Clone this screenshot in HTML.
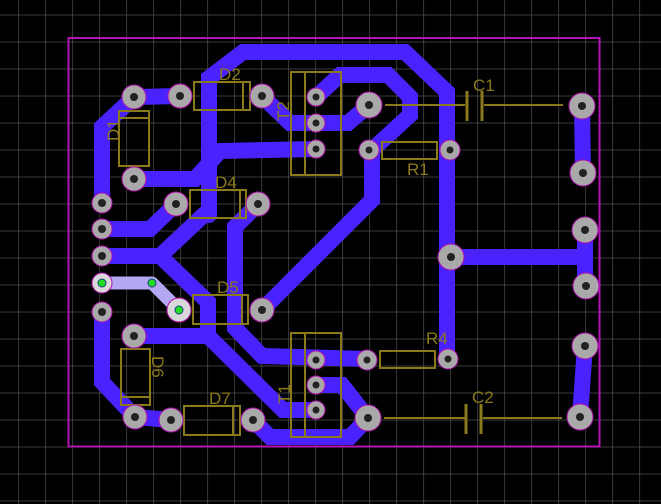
<!DOCTYPE html>
<html><head><meta charset="utf-8"><style>
html,body{margin:0;padding:0;background:#000;}
svg{display:block;}
text{font-family:"Liberation Sans",sans-serif;font-size:17px;fill:#8a7a1c;}
</style></head><body>
<svg width="661" height="504" viewBox="0 0 661 504" xmlns="http://www.w3.org/2000/svg">
<defs>
<pattern id="g" x="18.3" y="14.7" width="27" height="27" patternUnits="userSpaceOnUse">
<path d="M0 0V27M0 0H27" stroke="#5e5e5e" stroke-width="1.2" fill="none"/>
</pattern>
</defs>
<rect width="661" height="504" fill="#000"/>
<rect width="661" height="504" fill="url(#g)"/>
<rect x="68.5" y="38" width="531" height="408.5" fill="none" stroke="#b414b4" stroke-width="2"/>

<g fill="none" stroke="#4a22ff" stroke-width="16" stroke-linejoin="miter" stroke-linecap="round">
<polyline points="180,96 134,97 102,127 102,203"/>
<polyline points="209,215 209,78 243,52 405,52 447,92 447,360"/>
<polyline points="451,257 585,257"/>
<polyline points="585,230 585,286"/>
<polyline points="582,106 583,173"/>
<polyline points="585,346 580,417"/>
<polyline points="262,96 290,123 348,123 369,105"/>
<polyline points="316,97 340,75 388,75 410,97 410,115 372,150 372,200 262,310"/>
<polyline points="134,179 195,179 220,151 316,149"/>
<polyline points="209,210 160,256 102,256"/>
<polyline points="160,256 208,302 208,336 283,410 316,410"/>
<polyline points="134,336 208,336"/>
<polyline points="102,229 150,229 176,204"/>
<polyline points="258,204 235,227 235,328 262,356 367,359"/>
<polyline points="316,385 342,385 368,418"/>
<polyline points="102,312 102,382 135,417 171,420"/>
<polyline points="253,420 270,437 350,437 368,418"/>
</g>

<polyline points="102,283 152,283 179,310" fill="none" stroke="#b4a8f2" stroke-width="13" stroke-linejoin="round" stroke-linecap="round"/>

<g stroke="#8a7a1c" stroke-width="2" fill="none">
<rect x="194" y="82" width="56" height="28"/><line x1="243" y1="82" x2="243" y2="110"/>
<rect x="119" y="111" width="30" height="55"/><line x1="119" y1="118" x2="149" y2="118"/>
<rect x="190" y="190" width="56" height="28"/><line x1="240" y1="190" x2="240" y2="218"/>
<rect x="193" y="295" width="55" height="29"/><line x1="242" y1="295" x2="242" y2="324"/>
<rect x="121" y="349" width="29" height="56"/><line x1="121" y1="397" x2="150" y2="397"/>
<rect x="184" y="406" width="56" height="29"/><line x1="233" y1="406" x2="233" y2="435"/>
<rect x="291" y="72" width="50" height="103"/><line x1="305" y1="72" x2="305" y2="175"/>
<rect x="291" y="333" width="50" height="104"/><line x1="305" y1="333" x2="305" y2="437"/>
<rect x="382" y="142" width="55" height="17"/>
<rect x="380" y="351" width="55" height="17"/>
<line x1="385" y1="105" x2="465" y2="105"/><line x1="484" y1="105" x2="563" y2="105"/>
<line x1="384" y1="418" x2="465" y2="418"/><line x1="483" y1="418" x2="562" y2="418"/>
</g>
<g stroke="#8a7a1c" stroke-width="3">
<line x1="467" y1="91" x2="467" y2="121"/><line x1="482" y1="91" x2="482" y2="121"/>
<line x1="466" y1="404" x2="466" y2="434"/><line x1="481" y1="404" x2="481" y2="434"/>
</g>

<g fill="#a9a9a9" stroke="#b010b0" stroke-width="1">
<circle cx="134" cy="97" r="12"/><circle cx="180" cy="96" r="12"/><circle cx="262" cy="96" r="12"/>
<circle cx="134" cy="179" r="12"/>
<circle cx="102" cy="203" r="10"/><circle cx="102" cy="229" r="10"/><circle cx="102" cy="256" r="10"/><circle cx="102" cy="312" r="10"/>
<circle cx="176" cy="204" r="12"/><circle cx="258" cy="204" r="12"/>
<circle cx="316" cy="97" r="9"/><circle cx="316" cy="123" r="9"/><circle cx="316" cy="149" r="9"/>
<circle cx="369" cy="105" r="13"/><circle cx="582" cy="106" r="13"/>
<circle cx="369" cy="150" r="10"/><circle cx="450" cy="150" r="10"/>
<circle cx="583" cy="173" r="13"/><circle cx="585" cy="230" r="13"/><circle cx="586" cy="286" r="13"/><circle cx="585" cy="346" r="13"/><circle cx="580" cy="417" r="13"/>
<circle cx="451" cy="257" r="13"/>
<circle cx="262" cy="310" r="12"/>
<circle cx="134" cy="336" r="12"/><circle cx="135" cy="417" r="12"/>
<circle cx="171" cy="420" r="12"/><circle cx="253" cy="420" r="12"/>
<circle cx="316" cy="360" r="9"/><circle cx="316" cy="385" r="9"/><circle cx="316" cy="410" r="9"/>
<circle cx="367" cy="360" r="10"/><circle cx="448" cy="359" r="10"/>
<circle cx="368" cy="418" r="13"/>
</g>
<g fill="#d8d8d8" stroke="#b010b0" stroke-width="1">
<circle cx="102" cy="283" r="10"/><circle cx="179" cy="310" r="12"/>
</g>
<g fill="#222">
<circle cx="134" cy="97" r="4"/><circle cx="180" cy="96" r="4"/><circle cx="262" cy="96" r="4"/>
<circle cx="134" cy="179" r="4"/>
<circle cx="102" cy="203" r="4"/><circle cx="102" cy="229" r="4"/><circle cx="102" cy="256" r="4"/><circle cx="102" cy="312" r="4"/>
<circle cx="176" cy="204" r="4"/><circle cx="258" cy="204" r="4"/>
<circle cx="316" cy="97" r="3.5"/><circle cx="316" cy="123" r="3.5"/><circle cx="316" cy="149" r="3.5"/>
<circle cx="369" cy="105" r="4"/><circle cx="582" cy="106" r="4"/>
<circle cx="369" cy="150" r="3.5"/><circle cx="450" cy="150" r="3.5"/>
<circle cx="583" cy="173" r="4"/><circle cx="585" cy="230" r="4"/><circle cx="586" cy="286" r="4"/><circle cx="585" cy="346" r="4"/><circle cx="580" cy="417" r="4"/>
<circle cx="451" cy="257" r="4"/>
<circle cx="262" cy="310" r="4"/>
<circle cx="134" cy="336" r="4"/><circle cx="135" cy="417" r="4"/>
<circle cx="171" cy="420" r="4"/><circle cx="253" cy="420" r="4"/>
<circle cx="316" cy="360" r="3.5"/><circle cx="316" cy="385" r="3.5"/><circle cx="316" cy="410" r="3.5"/>
<circle cx="367" cy="360" r="3.5"/><circle cx="448" cy="359" r="3.5"/>
<circle cx="368" cy="418" r="4"/>
</g>
<g fill="#22dd22" stroke="#1a3a8a" stroke-width="1">
<circle cx="102" cy="283" r="4"/><circle cx="152" cy="283" r="4"/><circle cx="179" cy="310" r="4"/>
</g>

<text x="219" y="80">D2</text>
<text x="215" y="188">D4</text>
<text x="217" y="293">D5</text>
<text x="209" y="404">D7</text>
<text x="407" y="175">R1</text>
<text x="426" y="344">R4</text>
<text x="473" y="91">C1</text>
<text x="472" y="403">C2</text>
<text transform="translate(119,141) rotate(-90)">D1</text>
<text transform="translate(152,356) rotate(90)">D6</text>
<text transform="translate(289,121) rotate(-90)">T2</text>
<text transform="translate(290,404) rotate(-90)">T1</text>
</svg>
</body></html>
